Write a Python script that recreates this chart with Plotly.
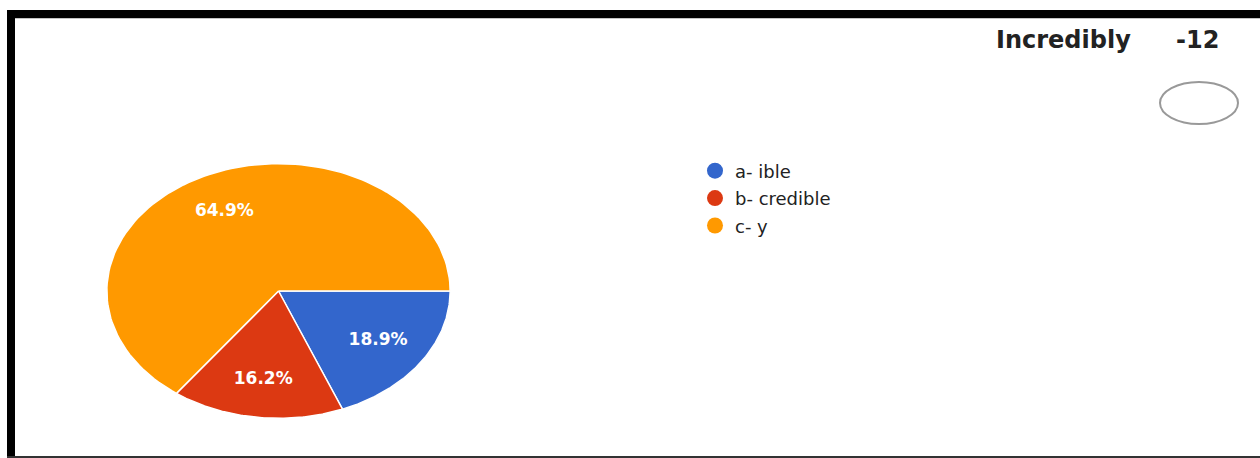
import numpy as np
import plotly.graph_objects as go

# ---- data ----
categories = ["a- ible", "b- credible", "c- y"]
counts = [7, 6, 24]
colors = ["#3366CC", "#DC3912", "#FF9900"]
title_word = "Incredibly"
title_num = "-12"

W, H = 1260, 458
total = sum(counts)
fracs = [c / total for c in counts]

fig = go.Figure()

# elliptical pie wedges, clockwise from 3 o'clock
start = 0.0
mids = []
for name, f, col in zip(categories, fracs, colors):
    end = start + f
    t = np.linspace(start, end, 120) * 2 * np.pi
    xs = np.concatenate([[0], np.cos(-t), [0]])
    ys = np.concatenate([[0], np.sin(-t), [0]])
    fig.add_trace(go.Scatter(x=xs, y=ys, fill="toself", fillcolor=col, mode="lines",
                             line=dict(color="white", width=1.5), hoverinfo="skip",
                             showlegend=False))
    mids.append((start + end) / 2 * 2 * np.pi)
    start = end

# percent labels
lr = 0.7
fig.add_trace(go.Scatter(
    x=[lr * np.cos(-m) for m in mids], y=[lr * np.sin(-m) for m in mids],
    mode="text", text=[f"<b>{f*100:.1f}%</b>" for f in fracs],
    textfont=dict(color="white", size=17, family="DejaVu Sans"),
    hoverinfo="skip", showlegend=False))

# legend entries
for i, (name, col) in enumerate(zip(categories, colors)):
    fig.add_trace(go.Scatter(x=[None], y=[None], mode="markers", name=name,
                             legendgroup=f"g{i}",
                             marker=dict(color=col, size=18, symbol="circle")))

fig.update_layout(
    width=W, height=H, margin=dict(l=0, r=0, t=0, b=0),
    paper_bgcolor="white", plot_bgcolor="white",
    xaxis=dict(domain=[106 / W, 451 / W], range=[-1.005, 1.005], visible=False, fixedrange=True),
    yaxis=dict(domain=[1 - 419 / H, 1 - 163 / H], range=[-1.005, 1.005], visible=False, fixedrange=True),
    legend=dict(x=695 / W, y=1 - 152.5 / H, xanchor="left", yanchor="top",
                font=dict(family="DejaVu Sans", size=18, color="#222222"),
                tracegroupgap=1, bgcolor="rgba(0,0,0,0)"),
    font=dict(family="DejaVu Sans"),
    shapes=[
        dict(type="rect", xref="paper", yref="paper", x0=7 / W, x1=1, y0=1 - 18 / H, y1=1 - 10 / H,
             fillcolor="black", line=dict(width=0)),
        dict(type="rect", xref="paper", yref="paper", x0=15 / W, x1=1, y0=1 - 18.6 / H, y1=1 - 17.6 / H,
             fillcolor="#888888", line=dict(width=0), layer="below"),
        dict(type="rect", xref="paper", yref="paper", x0=7 / W, x1=15 / W, y0=0, y1=1 - 10 / H,
             fillcolor="black", line=dict(width=0)),
        dict(type="rect", xref="paper", yref="paper", x0=7 / W, x1=1, y0=0, y1=2 / H,
             fillcolor="#333333", line=dict(width=0)),
        dict(type="circle", xref="paper", yref="paper", x0=1160 / W, x1=1238 / W,
             y0=1 - 124 / H, y1=1 - 82 / H, line=dict(color="#999999", width=2),
             fillcolor="rgba(0,0,0,0)"),
    ],
    annotations=[
        dict(text=f"<b>{title_word}</b>", xref="paper", yref="paper", x=994 / W, y=1 - 40 / H,
             xanchor="left", yanchor="middle", showarrow=False,
             font=dict(family="DejaVu Sans", size=24, color="#222222")),
        dict(text=f"<b>{title_num}</b>", xref="paper", yref="paper", x=1174 / W, y=1 - 40 / H,
             xanchor="left", yanchor="middle", showarrow=False,
             font=dict(family="DejaVu Sans", size=24, color="#222222")),
    ],
)

fig.write_html("out.html", config={"displayModeBar": False},
               post_script="document.body.style.margin='0';")
